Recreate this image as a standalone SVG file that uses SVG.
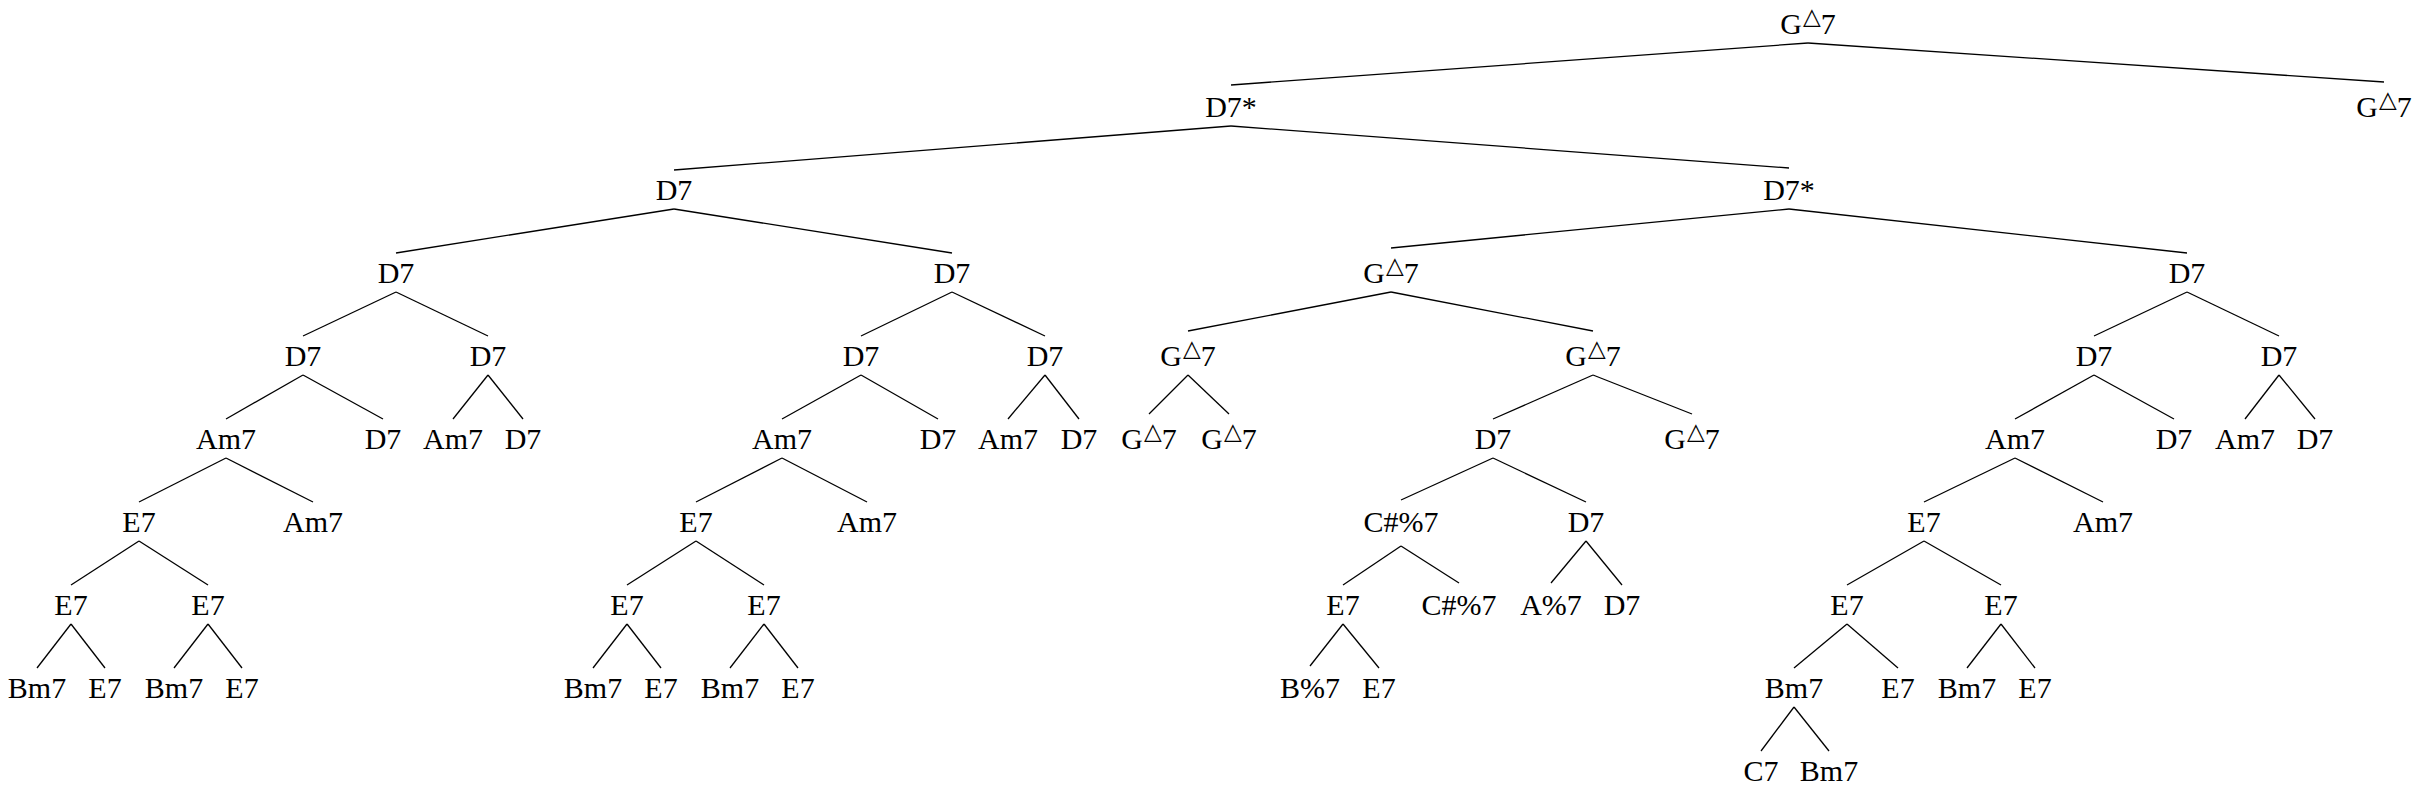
<svg xmlns="http://www.w3.org/2000/svg" width="2423" height="789" viewBox="0 0 2423 789">
<style>
text{font-family:"Liberation Serif","Times New Roman",serif;font-size:30px;text-anchor:middle;fill:#000}
.tri{font-family:"DejaVu Sans",sans-serif;font-size:23px}
#edges line{stroke:#000;stroke-width:1.3;fill:none}
</style>
<rect width="2423" height="789" fill="#fff"/>
<g id="edges">
<line x1="1808" y1="43" x2="1231" y2="85"/>
<line x1="1808" y1="43" x2="2384" y2="82"/>
<line x1="1231" y1="126" x2="674" y2="170"/>
<line x1="1231" y1="126" x2="1789" y2="168"/>
<line x1="674" y1="209" x2="396" y2="253"/>
<line x1="674" y1="209" x2="952" y2="253"/>
<line x1="1789" y1="209" x2="1391" y2="248"/>
<line x1="1789" y1="209" x2="2187" y2="253"/>
<line x1="396" y1="292" x2="303" y2="336"/>
<line x1="396" y1="292" x2="488" y2="336"/>
<line x1="952" y1="292" x2="861" y2="336"/>
<line x1="952" y1="292" x2="1045" y2="336"/>
<line x1="1391" y1="292" x2="1188" y2="331"/>
<line x1="1391" y1="292" x2="1593" y2="331"/>
<line x1="2187" y1="292" x2="2094" y2="336"/>
<line x1="2187" y1="292" x2="2279" y2="336"/>
<line x1="303" y1="375" x2="226" y2="419"/>
<line x1="303" y1="375" x2="383" y2="419"/>
<line x1="488" y1="375" x2="453" y2="419"/>
<line x1="488" y1="375" x2="523" y2="419"/>
<line x1="861" y1="375" x2="782" y2="419"/>
<line x1="861" y1="375" x2="938" y2="419"/>
<line x1="1045" y1="375" x2="1008" y2="419"/>
<line x1="1045" y1="375" x2="1079" y2="419"/>
<line x1="1188" y1="375" x2="1149" y2="414"/>
<line x1="1188" y1="375" x2="1229" y2="414"/>
<line x1="1593" y1="375" x2="1493" y2="419"/>
<line x1="1593" y1="375" x2="1692" y2="414"/>
<line x1="2094" y1="375" x2="2015" y2="419"/>
<line x1="2094" y1="375" x2="2174" y2="419"/>
<line x1="2279" y1="375" x2="2245" y2="419"/>
<line x1="2279" y1="375" x2="2315" y2="419"/>
<line x1="226" y1="458" x2="139" y2="502"/>
<line x1="226" y1="458" x2="313" y2="502"/>
<line x1="782" y1="458" x2="696" y2="502"/>
<line x1="782" y1="458" x2="867" y2="502"/>
<line x1="1493" y1="458" x2="1401" y2="500"/>
<line x1="1493" y1="458" x2="1586" y2="502"/>
<line x1="2015" y1="458" x2="1924" y2="502"/>
<line x1="2015" y1="458" x2="2103" y2="502"/>
<line x1="139" y1="541" x2="71" y2="585"/>
<line x1="139" y1="541" x2="208" y2="585"/>
<line x1="696" y1="541" x2="627" y2="585"/>
<line x1="696" y1="541" x2="764" y2="585"/>
<line x1="1401" y1="546" x2="1343" y2="585"/>
<line x1="1401" y1="546" x2="1459" y2="583"/>
<line x1="1586" y1="541" x2="1551" y2="583"/>
<line x1="1586" y1="541" x2="1622" y2="585"/>
<line x1="1924" y1="541" x2="1847" y2="585"/>
<line x1="1924" y1="541" x2="2001" y2="585"/>
<line x1="71" y1="624" x2="37" y2="668"/>
<line x1="71" y1="624" x2="105" y2="668"/>
<line x1="208" y1="624" x2="174" y2="668"/>
<line x1="208" y1="624" x2="242" y2="668"/>
<line x1="627" y1="624" x2="593" y2="668"/>
<line x1="627" y1="624" x2="661" y2="668"/>
<line x1="764" y1="624" x2="730" y2="668"/>
<line x1="764" y1="624" x2="798" y2="668"/>
<line x1="1343" y1="624" x2="1310" y2="666"/>
<line x1="1343" y1="624" x2="1379" y2="668"/>
<line x1="1847" y1="624" x2="1794" y2="668"/>
<line x1="1847" y1="624" x2="1898" y2="668"/>
<line x1="2001" y1="624" x2="1967" y2="668"/>
<line x1="2001" y1="624" x2="2035" y2="668"/>
<line x1="1794" y1="707" x2="1761" y2="751"/>
<line x1="1794" y1="707" x2="1829" y2="751"/>
</g>
<g id="n-root"><text x="1808" y="34">G<tspan class="tri" dx="1" dy="-10">△</tspan><tspan dx="0" dy="10">7</tspan></text></g>
<g id="n-1a"><text x="1231" y="117">D7*</text></g>
<g id="n-1b"><text x="2384" y="117">G<tspan class="tri" dx="1" dy="-10">△</tspan><tspan dx="0" dy="10">7</tspan></text></g>
<g id="n-2a"><text x="674" y="200">D7</text></g>
<g id="n-2b"><text x="1789" y="200">D7*</text></g>
<g id="n-3a"><text x="396" y="283">D7</text></g>
<g id="n-3b"><text x="952" y="283">D7</text></g>
<g id="n-3c"><text x="1391" y="283">G<tspan class="tri" dx="1" dy="-10">△</tspan><tspan dx="0" dy="10">7</tspan></text></g>
<g id="n-3d"><text x="2187" y="283">D7</text></g>
<g id="n-4a"><text x="303" y="366">D7</text></g>
<g id="n-4b"><text x="488" y="366">D7</text></g>
<g id="n-4c"><text x="861" y="366">D7</text></g>
<g id="n-4d"><text x="1045" y="366">D7</text></g>
<g id="n-4e"><text x="1188" y="366">G<tspan class="tri" dx="1" dy="-10">△</tspan><tspan dx="0" dy="10">7</tspan></text></g>
<g id="n-4f"><text x="1593" y="366">G<tspan class="tri" dx="1" dy="-10">△</tspan><tspan dx="0" dy="10">7</tspan></text></g>
<g id="n-4g"><text x="2094" y="366">D7</text></g>
<g id="n-4h"><text x="2279" y="366">D7</text></g>
<g id="n-5a"><text x="226" y="449">Am7</text></g>
<g id="n-5b"><text x="383" y="449">D7</text></g>
<g id="n-5c"><text x="453" y="449">Am7</text></g>
<g id="n-5d"><text x="523" y="449">D7</text></g>
<g id="n-5e"><text x="782" y="449">Am7</text></g>
<g id="n-5f"><text x="938" y="449">D7</text></g>
<g id="n-5g"><text x="1008" y="449">Am7</text></g>
<g id="n-5h"><text x="1079" y="449">D7</text></g>
<g id="n-5i"><text x="1149" y="449">G<tspan class="tri" dx="1" dy="-10">△</tspan><tspan dx="0" dy="10">7</tspan></text></g>
<g id="n-5j"><text x="1229" y="449">G<tspan class="tri" dx="1" dy="-10">△</tspan><tspan dx="0" dy="10">7</tspan></text></g>
<g id="n-5k"><text x="1493" y="449">D7</text></g>
<g id="n-5l"><text x="1692" y="449">G<tspan class="tri" dx="1" dy="-10">△</tspan><tspan dx="0" dy="10">7</tspan></text></g>
<g id="n-5m"><text x="2015" y="449">Am7</text></g>
<g id="n-5n"><text x="2174" y="449">D7</text></g>
<g id="n-5o"><text x="2245" y="449">Am7</text></g>
<g id="n-5p"><text x="2315" y="449">D7</text></g>
<g id="n-6a"><text x="139" y="532">E7</text></g>
<g id="n-6b"><text x="313" y="532">Am7</text></g>
<g id="n-6c"><text x="696" y="532">E7</text></g>
<g id="n-6d"><text x="867" y="532">Am7</text></g>
<g id="n-6e"><text x="1401" y="532">C#%7</text></g>
<g id="n-6f"><text x="1586" y="532">D7</text></g>
<g id="n-6g"><text x="1924" y="532">E7</text></g>
<g id="n-6h"><text x="2103" y="532">Am7</text></g>
<g id="n-7a"><text x="71" y="615">E7</text></g>
<g id="n-7b"><text x="208" y="615">E7</text></g>
<g id="n-7c"><text x="627" y="615">E7</text></g>
<g id="n-7d"><text x="764" y="615">E7</text></g>
<g id="n-7e"><text x="1343" y="615">E7</text></g>
<g id="n-7f"><text x="1459" y="615">C#%7</text></g>
<g id="n-7g"><text x="1551" y="615">A%7</text></g>
<g id="n-7h"><text x="1622" y="615">D7</text></g>
<g id="n-7i"><text x="1847" y="615">E7</text></g>
<g id="n-7j"><text x="2001" y="615">E7</text></g>
<g id="n-8a"><text x="37" y="698">Bm7</text></g>
<g id="n-8b"><text x="105" y="698">E7</text></g>
<g id="n-8c"><text x="174" y="698">Bm7</text></g>
<g id="n-8d"><text x="242" y="698">E7</text></g>
<g id="n-8e"><text x="593" y="698">Bm7</text></g>
<g id="n-8f"><text x="661" y="698">E7</text></g>
<g id="n-8g"><text x="730" y="698">Bm7</text></g>
<g id="n-8h"><text x="798" y="698">E7</text></g>
<g id="n-8i"><text x="1310" y="698">B%7</text></g>
<g id="n-8j"><text x="1379" y="698">E7</text></g>
<g id="n-8k"><text x="1794" y="698">Bm7</text></g>
<g id="n-8l"><text x="1898" y="698">E7</text></g>
<g id="n-8m"><text x="1967" y="698">Bm7</text></g>
<g id="n-8n"><text x="2035" y="698">E7</text></g>
<g id="n-9a"><text x="1761" y="781">C7</text></g>
<g id="n-9b"><text x="1829" y="781">Bm7</text></g>
</svg>
